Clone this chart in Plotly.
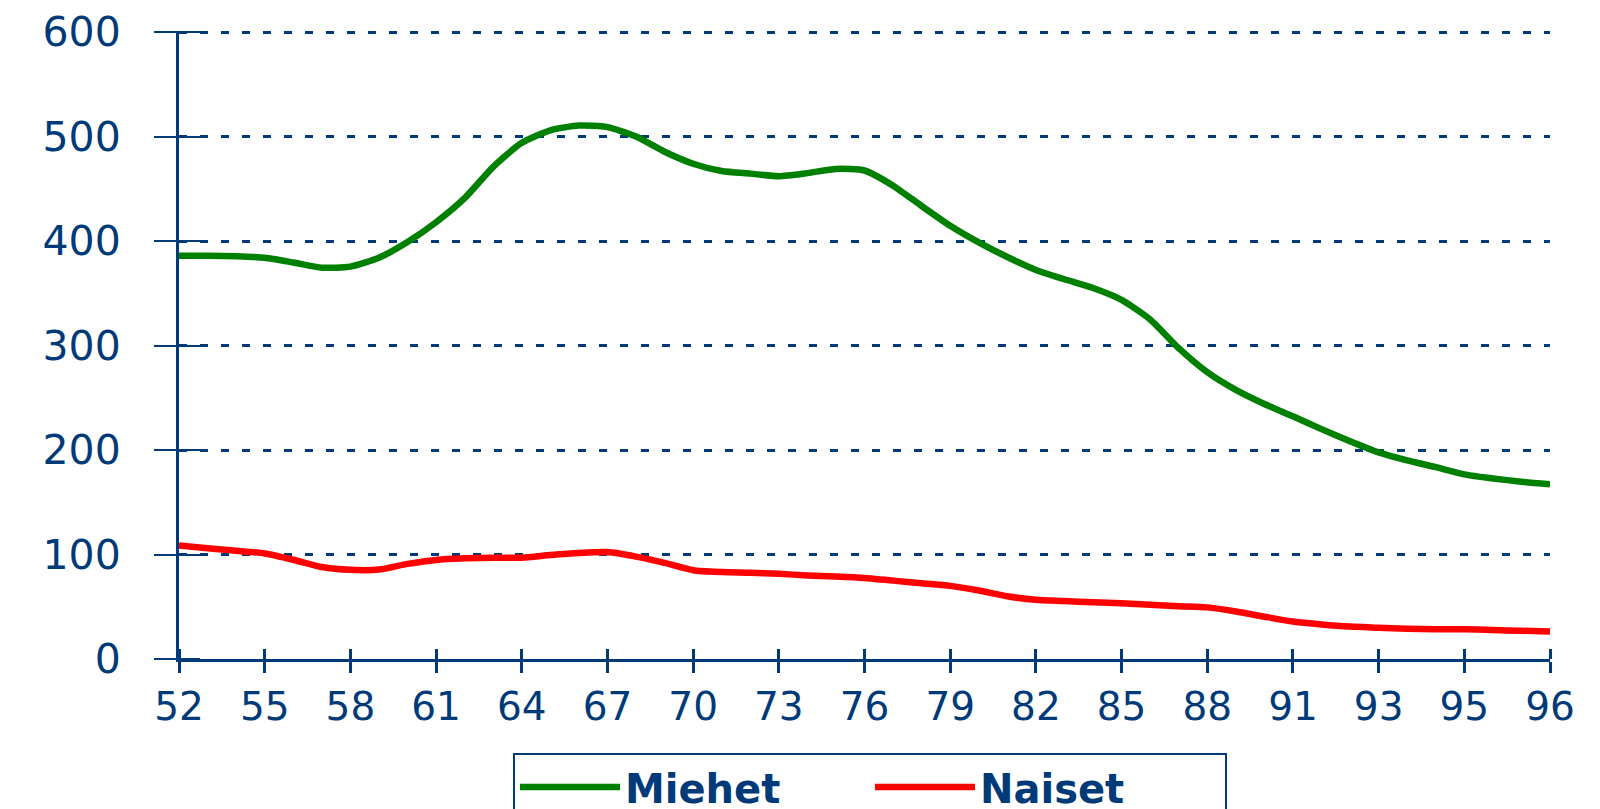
import plotly.graph_objects as go

# ---- data ----
tick_labels = ["52", "55", "58", "61", "64", "67", "70", "73", "76",
               "79", "82", "85", "88", "91", "93", "95", "96"]

miehet = [386, 386, 385.5, 384, 379.5, 374.5, 375.5, 384, 399, 418,
          441, 471, 494, 506, 510.5, 509, 500, 485.5, 474, 467,
          464.5, 462, 465, 469, 467.5, 453, 433.5, 414.6, 398.7, 384.7,
          372.3, 363.4, 355, 343.7, 325, 297.5, 274.5, 257.5, 244, 232.3,
          220, 208.4, 197.7, 190, 183.6, 176.7, 172.8, 169.7, 167.3]

naiset = [108.7, 106, 103.5, 101, 95, 88, 85.3, 85.6, 91, 94.8,
          96.3, 97, 97, 99.5, 101.5, 102.3, 98, 92, 85, 83.2,
          82.5, 81.5, 80, 79, 77.6, 75, 72.5, 70, 65.5, 60,
          56.6, 55.5, 54.3, 53.3, 52, 50.5, 49.4, 45.5, 40.5, 35.8,
          33, 31, 30, 29, 28.5, 28.5, 27.7, 27, 26.3]

y_ticks = [0, 100, 200, 300, 400, 500, 600]

# ---- build ----
AX = "#003a78"
n = len(miehet)
xs = list(range(n))
step = (n - 1) // (len(tick_labels) - 1)
tickvals = xs[::step]

fig = go.Figure()
fig.add_trace(go.Scatter(x=xs, y=miehet, name="Miehet", mode="lines",
                         line=dict(color="#008000", width=6.5, shape="spline", smoothing=0.6)))
fig.add_trace(go.Scatter(x=xs, y=naiset, name="Naiset", mode="lines",
                         line=dict(color="#ff0000", width=6.5, shape="spline", smoothing=0.6)))

xr = [0, n - 1]
yr = [y_ticks[0], y_ticks[-1] + 1]

fig.update_layout(
    width=1600, height=809,
    paper_bgcolor="white", plot_bgcolor="white",
    margin=dict(l=171, r=58, t=23, b=158, autoexpand=False),
    xaxis=dict(range=xr, tickmode="array", tickvals=tickvals, ticktext=tick_labels,
               showgrid=False, zeroline=False, showline=True, linecolor=AX, linewidth=3,
               ticks="outside", ticklen=11, tickwidth=3, tickcolor=AX,
               minor=dict(tickmode="array", tickvals=tickvals, ticks="inside",
                          ticklen=10, tickwidth=3, tickcolor=AX, showgrid=False),
               tickfont=dict(family="DejaVu Sans", size=39, color=AX),
               ticklabelstandoff=0, automargin=False, ticklabeloverflow="allow"),
    yaxis=dict(range=yr, tickmode="array", tickvals=y_ticks,
               showgrid=True, gridcolor=AX, gridwidth=3, griddash="8px,13px",
               zeroline=False, showline=True, linecolor=AX, linewidth=3,
               ticks="outside", ticklen=22, tickwidth=2, tickcolor=AX,
               minor=dict(tickmode="array", tickvals=y_ticks, ticks="inside",
                          ticklen=21, tickwidth=2, tickcolor=AX, showgrid=False),
               tickfont=dict(family="DejaVu Sans", size=41, color=AX),
               ticklabelstandoff=25, automargin=False, ticklabeloverflow="allow"),
    showlegend=True,
    legend=dict(orientation="h", x=0.2436, y=-0.149, xanchor="left", yanchor="top",
                bordercolor=AX, borderwidth=2, bgcolor="white",
                font=dict(family="DejaVu Sans", size=40, color=AX, weight="bold"),
                itemwidth=100, entrywidth=240, entrywidthmode="pixels"),
)

fig.write_html("out.html")
